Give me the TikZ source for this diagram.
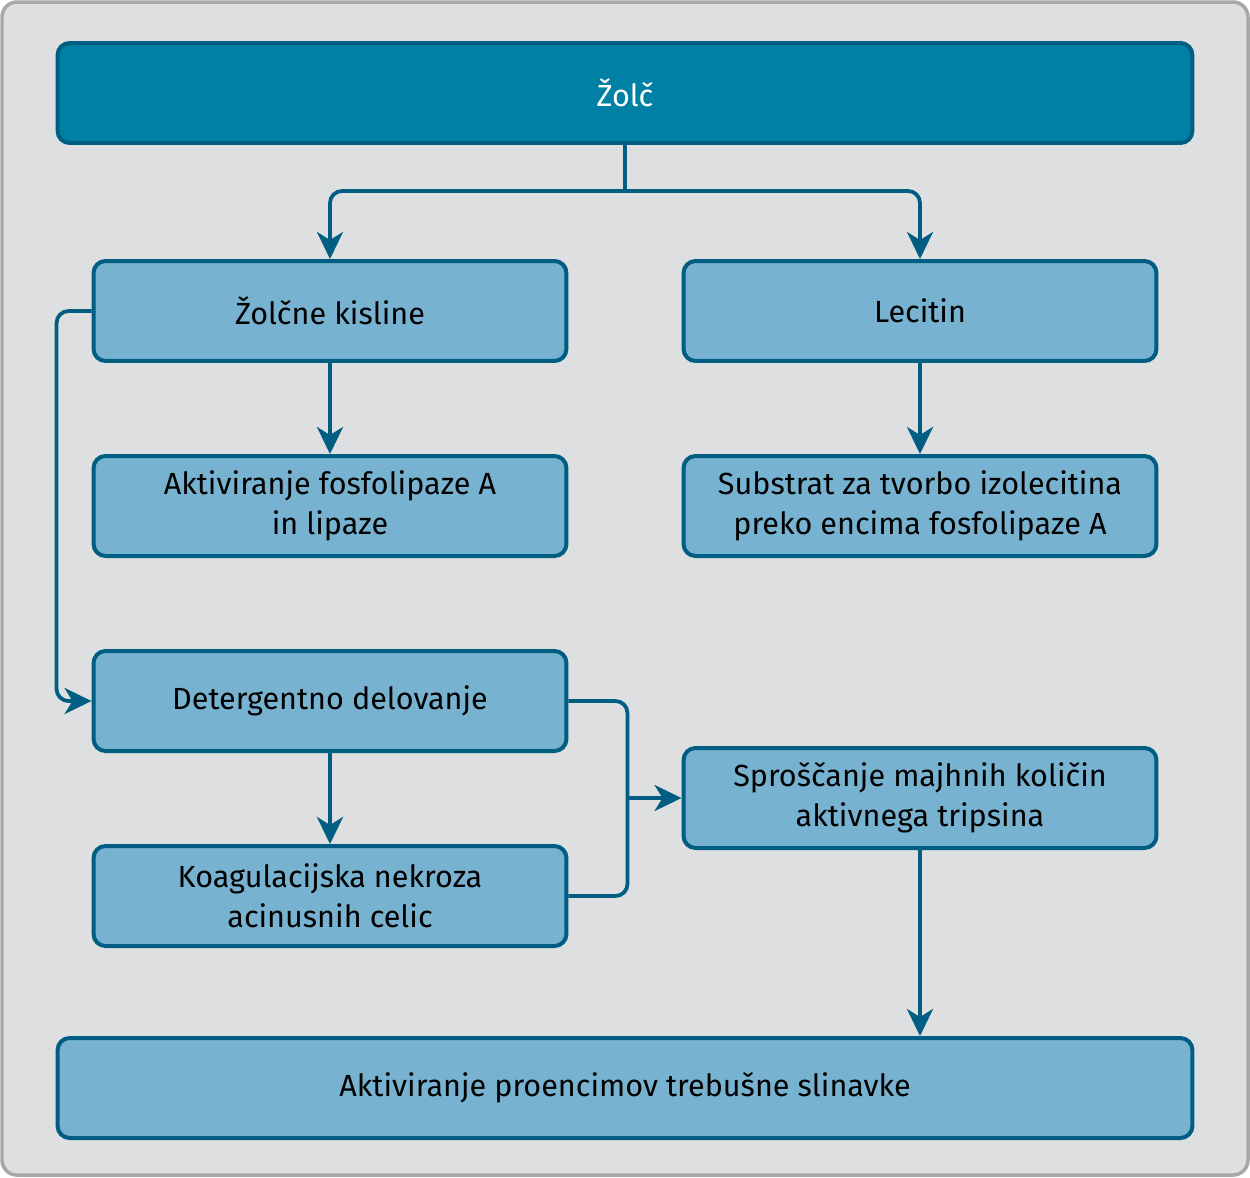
\documentclass[tikz,border=0pt]{standalone}
\usepackage{fontspec}
\setmainfont{Fira Sans}
\usetikzlibrary{arrows.meta,calc}

\definecolor{bgcol}{HTML}{DEDFE0}
\definecolor{framecol}{HTML}{A7A8AA}
\definecolor{topcol}{HTML}{0080A4}
\definecolor{boxcol}{HTML}{77B3D1}
\definecolor{linecol}{HTML}{005E82}

\begin{document}
\begin{tikzpicture}[x=0.02cm, y=-0.02cm,
    box/.style={draw=linecol, fill=boxcol, line width=0.08cm, rounded corners=0.24cm,
      minimum width=9.46cm, minimum height=2cm, align=center, inner sep=0pt,
      font=\fontsize{17.4}{22.7}\selectfont},
    widebox/.style={box, minimum width=22.7cm},
    conn/.style={draw=linecol, line width=0.075cm, rounded corners=0.24cm},
    arr/.style={conn, -{Stealth[length=0.54cm, width=0.52cm, inset=0.16cm]}}]
    \useasboundingbox (0,0) rectangle (1250,1177);
    % background panel
    \draw[fill=bgcol, draw=framecol, line width=0.07cm, rounded corners=0.3cm] (2,2) rectangle (1248,1175);

    % boxes
    \node[widebox, fill=topcol, text=white] (zolc) at (625,93) {Žolč};
    \node[box] (kisline) at (330,311) {Žolčne kisline};
    \node[box] (lecitin) at (920,311) {Lecitin};
    \node[box] (lipaze) at (330,506) {Aktiviranje fosfolipaze A\\in lipaze};
    \node[box] (substrat) at (920,506) {Substrat za tvorbo izolecitina\\preko encima fosfolipaze A};
    \node[box] (detergent) at (330,701) {Detergentno delovanje};
    \node[box] (nekroza) at (330,896) {Koagulacijska nekroza\\acinusnih celic};
    \node[box] (tripsin) at (920,798) {Sproščanje majhnih količin\\aktivnega tripsina};
    \node[widebox] (proencimi) at (625,1088) {Aktiviranje proencimov trebušne slinavke};

    % connectors
    \coordinate (split) at ($(zolc.south)+(0,46)$);
    \draw[conn] (zolc.south) -- (split);
    \draw[arr] (split) -| (kisline.north);
    \draw[arr] (split) -| (lecitin.north);
    \draw[arr] (kisline) -- (lipaze);
    \draw[arr] (lecitin) -- (substrat);
    \draw[arr] (kisline.west) -- ++(-35,0) |- (detergent.west);
    \draw[arr] (detergent) -- (nekroza);
    \coordinate (bend) at ($(detergent.east)+(59,0)$);
    \coordinate (merge) at (bend |- tripsin.west);
    \draw[conn] (detergent.east) -| (merge);
    \draw[conn] (nekroza.east) -| (merge);
    \draw[arr] (merge) -- (tripsin.west);
    \draw[arr] (tripsin) -- (tripsin |- proencimi.north);
\end{tikzpicture}
\end{document}
